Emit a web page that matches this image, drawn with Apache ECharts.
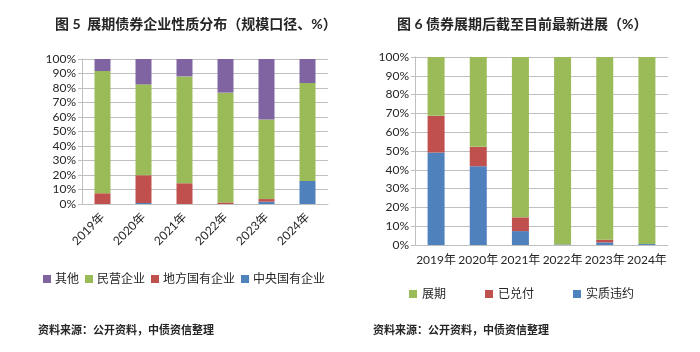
<!DOCTYPE html>
<html>
<head>
<meta charset="utf-8">
<script src="https://cdn.jsdelivr.net/npm/echarts@6/dist/echarts.min.js"></script>
<style>
html, body { margin: 0; padding: 0; background: #fff; }
#main { width: 700px; height: 352px; }
</style>
</head>
<body>
<div id="main"></div>
<script>
// 年份
var years = ['2019年', '2020年', '2021年', '2022年', '2023年', '2024年'];

// 图5 企业性质分布（%）
var central = [0, 0.7, 0, 0, 1.6, 15.9];
var local = [7.4, 19.1, 14.3, 1.1, 1.8, 0];
var privateEnt = [84.3, 62.7, 73.7, 75.7, 54.8, 67.5];
var others = [8.3, 17.5, 12.0, 23.2, 41.8, 16.6];

// 图6 展期后最新进展（%）
var defaulted = [49.2, 41.9, 7.4, 0.3, 1.4, 0.5];
var repaid = [19.5, 10.3, 7.3, 0, 1.4, 0];
var extended = [31.3, 47.8, 85.3, 99.7, 97.2, 99.5];

var font = 'Lato, "Noto Sans CJK SC", sans-serif';
var gray = '#bfbfbf';
var txt = '#262626';

var colors = {
    purple: '#8064A2',
    green: '#9BBB59',
    red: '#C0504D',
    blue: '#4F81BD'
};

function yAxisOf(idx) {
    return {
        gridIndex: idx,
        type: 'value',
        min: 0,
        max: 100,
        interval: 10,
        axisLine: { show: true, lineStyle: { color: gray } },
        axisTick: { show: true, length: 4, lineStyle: { color: gray } },
        axisLabel: { formatter: '{value}%', color: txt, fontSize: 12, fontFamily: font, margin: 6 },
        splitLine: { lineStyle: { color: gray } }
    };
}

function bar(name, data, color, xi) {
    return {
        name: name,
        type: 'bar',
        stack: 's' + xi,
        xAxisIndex: xi,
        yAxisIndex: xi,
        data: data,
        barWidth: xi === 0 ? 16 : 17,
        itemStyle: { color: color },
        emphasis: { disabled: true }
    };
}

var mychart = echarts.init(document.getElementById('main'));
var option = {
    animation: false,
    textStyle: { fontFamily: font },
    title: [
        {
            text: '图 5  展期债券企业性质分布（规模口径、%）',
            left: 50, top: 12,
            textStyle: { fontSize: 14, fontWeight: 'bold', color: txt, fontFamily: font }
        },
        {
            text: '图 6 债券展期后截至目前最新进展（%）',
            left: 392, top: 12,
            textStyle: { fontSize: 14, fontWeight: 'bold', color: txt, fontFamily: font }
        },
        {
            text: '资料来源：公开资料，中债资信整理',
            left: 33, top: 320,
            textStyle: { fontSize: 11, fontWeight: 'bold', color: txt, fontFamily: font }
        },
        {
            text: '资料来源：公开资料，中债资信整理',
            left: 368, top: 320,
            textStyle: { fontSize: 11, fontWeight: 'bold', color: txt, fontFamily: font }
        }
    ],
    legend: [
        {
            data: ['其他', '民营企业', '地方国有企业', '中央国有企业'],
            left: 38, top: 268,
            itemWidth: 8, itemHeight: 8, itemGap: 6,
            icon: 'rect',
            textStyle: { fontSize: 12, color: txt, fontFamily: font, padding: [0, 0, 0, -1] }
        },
        {
            data: ['展期', '已兑付', '实质违约'],
            left: 404, top: 283,
            itemWidth: 8, itemHeight: 8, itemGap: 39,
            icon: 'rect',
            textStyle: { fontSize: 12, color: txt, fontFamily: font }
        }
    ],
    grid: [
        { left: 82, right: 372, top: 59, bottom: 148 },
        { left: 415, right: 32, top: 57, bottom: 107 }
    ],
    xAxis: [
        {
            gridIndex: 0,
            type: 'category',
            data: years,
            axisLine: { lineStyle: { color: gray } },
            axisTick: { length: 5, lineStyle: { color: gray } },
            axisLabel: { rotate: 45, interval: 0, color: txt, fontSize: 12, fontFamily: font, margin: 11 }
        },
        {
            gridIndex: 1,
            type: 'category',
            data: years,
            axisLine: { lineStyle: { color: gray } },
            axisTick: { length: 5, lineStyle: { color: gray } },
            axisLabel: { interval: 0, color: txt, fontSize: 12, fontFamily: font, margin: 9 }
        }
    ],
    yAxis: [yAxisOf(0), yAxisOf(1)],
    series: [
        bar('中央国有企业', central, colors.blue, 0),
        bar('地方国有企业', local, colors.red, 0),
        bar('民营企业', privateEnt, colors.green, 0),
        bar('其他', others, colors.purple, 0),
        bar('实质违约', defaulted, colors.blue, 1),
        bar('已兑付', repaid, colors.red, 1),
        bar('展期', extended, colors.green, 1)
    ]
};
mychart.setOption(option);
</script>
</body>
</html>
